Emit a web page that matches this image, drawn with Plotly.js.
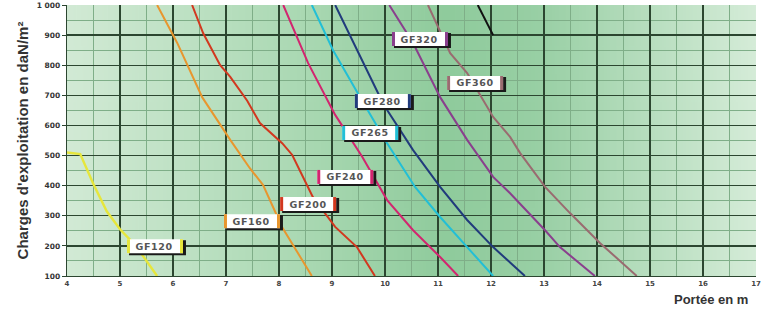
<!DOCTYPE html>
<html><head><meta charset="utf-8">
<script src="https://cdn.plot.ly/plotly-3.0.1.min.js"></script>
<style>html,body{margin:0;padding:0;background:#fff}#c{width:768px;height:320px}</style>
</head><body><div id="c"></div>
<script>
// ---- data ----
const names = ["GF120","GF160","GF200","GF240","GF265","GF280","GF320","GF360","GF400"];
const xs = [
  [4.0,4.25,4.5,4.75,5.0,5.3,5.7],
  [5.7,6.08,6.55,7.08,7.45,7.7,8.06,8.62],
  [6.36,6.57,6.89,7.08,7.4,7.64,8.06,8.25,8.64,9.06,9.47,9.81],
  [8.08,8.55,9.06,9.57,10.04,10.53,11.04,11.38],
  [8.62,9.02,9.53,10.04,10.57,11.04,11.55,12.04],
  [9.06,9.47,9.87,10.04,10.53,11.04,11.55,12.04,12.64],
  [10.08,10.53,11.04,11.55,12.04,12.36,13.02,13.3,13.96],
  [10.81,11.23,11.55,12.04,12.36,12.55,13.02,13.49,14.06,14.75],
  [11.75,12.04]
];
const ys = [
  [510,505,405,315,255,200,100],
  [1000,874,694,552,458,402,262,100],
  [1000,906,800,761,682,608,541,502,362,263,196,100],
  [1000,807,635,496,352,252,163,100],
  [1000,850,694,541,395,296,196,100],
  [1000,850,707,651,518,396,286,196,100],
  [1000,874,694,552,429,375,252,196,100],
  [1000,840,774,628,562,508,396,309,209,100],
  [1000,900]
];
const colors = ["#e6e63c","#e8962e","#d2381f","#d2256f","#22bfd6","#213b7c","#8a3f8d","#9a6b70","#111111"];
const labelNames = ["GF120","GF160","GF200","GF240","GF265","GF280","GF320","GF360"];
const labelX = [5.66,7.49,8.55,9.25,9.72,9.96,10.66,11.70];
const labelY = [199,282,339,429,575,681,887,741];
const yTickVals = [100,200,300,400,500,600,700,800,900,1000];
const yTickText = ["100","200","300","400","500","600","700","800","900","1 000"];
const xTickVals = [4,5,6,7,8,9,10,11,12,13,14,15,16,17];

// ---- background gradient image ----
const cv = document.createElement('canvas');
cv.width = 400; cv.height = 10;
const g = cv.getContext('2d');
const grad = g.createLinearGradient(0,0,400,0);
grad.addColorStop(0.0, '#d2ead5');
grad.addColorStop(0.35, '#a9d8b2');
grad.addColorStop(0.55, '#8fcb9c');
grad.addColorStop(0.68, '#98cfa4');
grad.addColorStop(1.0, '#d5ecd8');
g.fillStyle = grad; g.fillRect(0,0,400,10);
const bgURL = cv.toDataURL();

const traces = xs.map((x,i)=>({
  x:x, y:ys[i], type:'scatter', mode:'lines', name:names[i],
  line:{color:colors[i], width: i===0 ? 2.4 : 2}, hoverinfo:'skip'
}));

const FONT = 'Arial, Liberation Sans, sans-serif';
const shapes = [];
const annotations = [];
labelNames.forEach((n,i)=>{
  const base = {type:'rect', xref:'x', yref:'y', xsizemode:'pixel', ysizemode:'pixel',
    xanchor:labelX[i], yanchor:labelY[i], line:{width:0}};
  shapes.push(Object.assign({}, base, {x0:-26, x1:31, y0:-9, y1:6, fillcolor:'#1a1a1a'}));
  shapes.push(Object.assign({}, base, {x0:-28, x1:28, y0:-7, y1:7, fillcolor:'#ffffff'}));
  shapes.push(Object.assign({}, base, {x0:-28, x1:-25, y0:-7, y1:7, fillcolor:colors[i]}));
  shapes.push(Object.assign({}, base, {x0:25, x1:28, y0:-7, y1:7, fillcolor:colors[i]}));
  annotations.push({x:labelX[i], y:labelY[i], xref:'x', yref:'y', text:'<b>'+n+'</b>',
    showarrow:false, font:{family:'DejaVu Sans, sans-serif', size:9.5, color:'#555'},
    xanchor:'center', yanchor:'middle'});
});
annotations.push({x:1, y:0, xref:'paper', yref:'paper', xanchor:'right', yanchor:'top', yshift:-14, xshift:-6,
  text:'<b>Portée en m</b>', showarrow:false, font:{family:FONT, size:13, color:'#333'}});

const layout = {
  width:768, height:320,
  margin:{l:67, r:12, t:5, b:44},
  paper_bgcolor:'#ffffff', plot_bgcolor:'rgba(0,0,0,0)',
  showlegend:false,
  images:[{source:bgURL, xref:'paper', yref:'paper', x:0, y:1, sizex:1, sizey:1,
    sizing:'stretch', layer:'below', xanchor:'left', yanchor:'top'}],
  xaxis:{range:[4,17], tickvals:xTickVals, showgrid:true, gridcolor:'#2c4630', gridwidth:1.3,
    minor:{dtick:0.5, tick0:4, showgrid:true, gridcolor:'#7fae88', gridwidth:1},
    showline:true, linecolor:'#2c4630', linewidth:1.3, zeroline:false,
    ticks:'', tickfont:{family:'DejaVu Sans, sans-serif', size:7, color:'#444', weight:'bold'}},
  yaxis:{range:[100,1000], tickvals:yTickVals, ticktext:yTickText, showgrid:true, gridcolor:'#2c4630', gridwidth:1.3,
    minor:{dtick:50, tick0:100, showgrid:true, gridcolor:'#7fae88', gridwidth:1},
    showline:true, linecolor:'#2c4630', linewidth:1.3, zeroline:false,
    ticks:'outside', ticklen:4, tickcolor:'#2c4630',
    tickfont:{family:'DejaVu Sans, sans-serif', size:7.5, color:'#333', weight:'bold'},
    title:{text:'<b>Charges d\'exploitation en daN/m²</b>', standoff:4,
      font:{family:FONT, size:15, color:'#333'}}},
  shapes:shapes, annotations:annotations
};
Plotly.newPlot('c', traces, layout, {staticPlot:true, displayModeBar:false}).then(()=>{
  document.querySelectorAll('.annotation-text').forEach(t=>{
    if (t.textContent.indexOf('GF')===0) t.style.letterSpacing='0.6px';
  });
});
</script></body></html>
